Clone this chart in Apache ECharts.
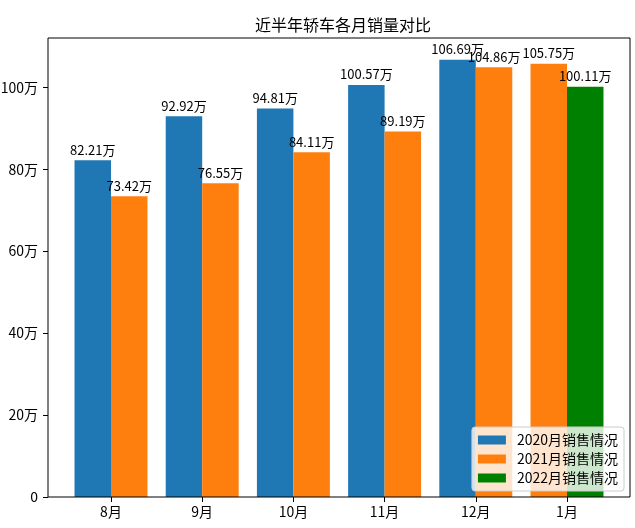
<!DOCTYPE html>
<html>
<head>
<meta charset="utf-8">
<script src="https://cdn.jsdelivr.net/npm/echarts@6/dist/echarts.min.js"></script>
<style>html,body{margin:0;padding:0;background:#fff}#chart{width:635px;height:528px}</style>
</head>
<body>
<div id="chart"></div>
<script>
// ---- data ----
const categories = ['8月', '9月', '10月', '11月', '12月', '1月'];
const sales2020 = [82.21, 92.92, 94.81, 100.57, 106.69, null];
const sales2021 = [73.42, 76.55, 84.11, 89.19, 104.86, 105.75];
const sales2022 = [null, null, null, null, null, 100.11];
const yTicks = [0, 20, 40, 60, 80, 100];
const seriesNames = ['2020月销售情况', '2021月销售情况', '2022月销售情况'];
const colors = ['#1f77b4', '#ff7f0e', '#008000'];

// left slot: 2020 where present, otherwise 2021; right slot: 2021 where 2020 present, otherwise 2022
const left2021 = sales2021.map((v, i) => sales2020[i] == null ? v : null);
const right2021 = sales2021.map((v, i) => sales2020[i] == null ? null : v);

const FONT = 'Noto Sans CJK SC';
const label = {
  show: true, position: 'top', distance: 4, color: '#000', fontSize: 13, fontFamily: FONT,
  formatter: p => p.value == null ? '' : Number(p.value).toFixed(2) + '万'
};
function bar(name, data, stack, color) {
  return {
    type: 'bar', name, data, stack, barWidth: '40%', barGap: '0%',
    xAxisIndex: 0, yAxisIndex: 0,
    itemStyle: { color }, label, emphasis: { disabled: true }
  };
}

const chart = echarts.init(document.getElementById('chart'), null, { renderer: 'canvas' });
chart.setOption({
  animation: false,
  backgroundColor: '#fff',
  textStyle: { fontFamily: FONT, color: '#000' },
  title: {
    text: '近半年轿车各月销量对比', left: 250, top: 12,
    textStyle: { fontSize: 16, fontWeight: 'normal', color: '#000', fontFamily: FONT }
  },
  legend: {
    data: seriesNames, orient: 'vertical', right: 11, bottom: 37,
    icon: 'rect', itemWidth: 28, itemHeight: 9, itemGap: 5,
    backgroundColor: 'rgba(255,255,255,0.8)', borderColor: '#cccccc', borderWidth: 1, borderRadius: 3,
    padding: [6, 6, 6, 6],
    textStyle: { fontSize: 14, color: '#000', fontFamily: FONT, padding: [0, 0, 0, 6] }
  },
  grid: [
    { left: 65.4, right: 22.4, top: 38, bottom: 31, outerBoundsMode: 'none', containLabel: false },
    { left: 48, right: 5, top: 38, bottom: 31, show: true, borderColor: '#000', borderWidth: 1,
      backgroundColor: 'transparent', z: 3, outerBoundsMode: 'none', containLabel: false }
  ],
  xAxis: [
    {
      gridIndex: 0, type: 'category', data: categories,
      axisLine: { show: false },
      axisTick: { show: true, alignWithLabel: true, length: 5, lineStyle: { color: '#000' } },
      axisLabel: { color: '#000', fontSize: 14, margin: 8, fontFamily: FONT },
      splitLine: { show: false }
    },
    { gridIndex: 1, type: 'value', show: false, min: 0, max: 1 }
  ],
  yAxis: [
    {
      gridIndex: 0, type: 'value', min: 0, max: 112.02, offset: 17.4,
      axisLine: { show: false },
      axisTick: { show: true, length: 5, lineStyle: { color: '#000' }, customValues: yTicks },
      axisLabel: { color: '#000', fontSize: 14, margin: 10, fontFamily: FONT, customValues: yTicks,
        formatter: v => v === 0 ? '0' : v + '万' },
      splitLine: { show: false }
    },
    { gridIndex: 1, type: 'value', show: false, min: 0, max: 1 }
  ],
  series: [
    bar(seriesNames[0], sales2020, 'left', colors[0]),
    bar(seriesNames[1], left2021, 'left', colors[1]),
    bar(seriesNames[1], right2021, 'right', colors[1]),
    bar(seriesNames[2], sales2022, 'right', colors[2])
  ]
});
</script>
</body>
</html>
